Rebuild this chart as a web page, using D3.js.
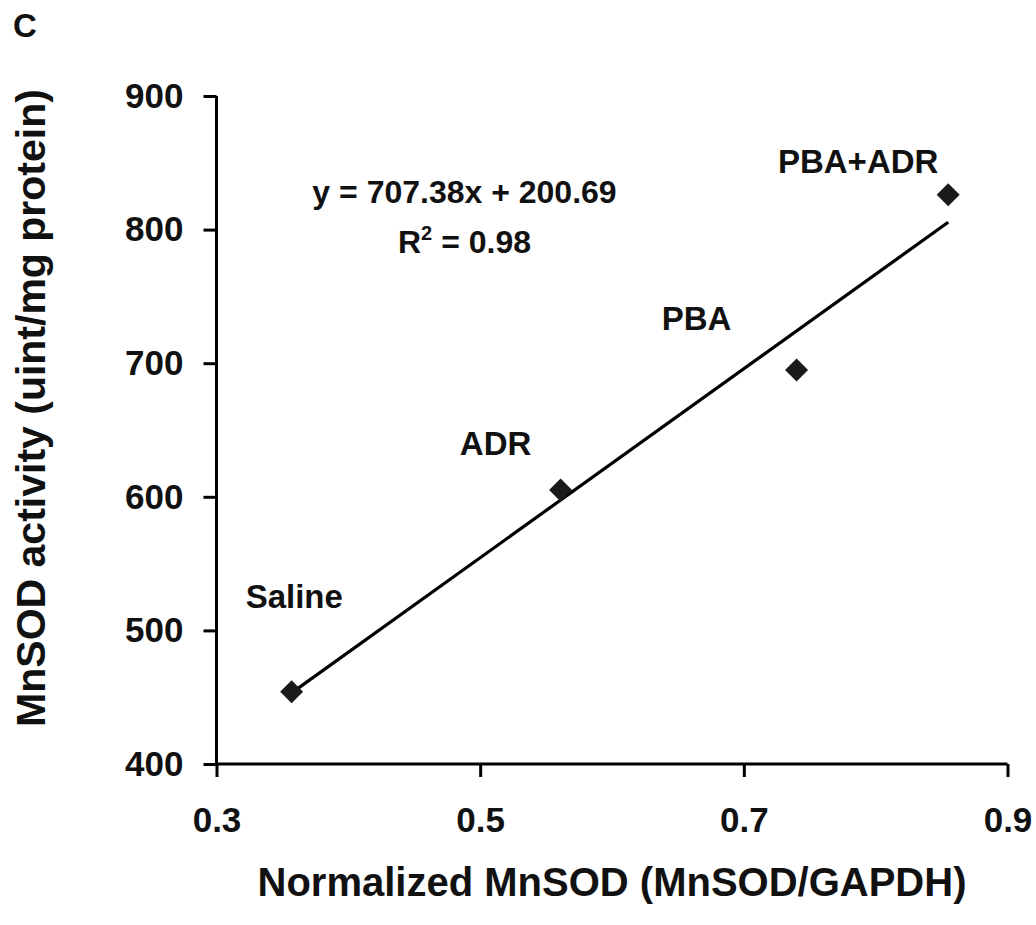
<!DOCTYPE html>
<html>
<head>
<meta charset="utf-8">
<script src="https://cdn.jsdelivr.net/npm/d3@7"></script>
<style>
  body { margin: 0; background: #fff; }
  svg text { font-family: "Liberation Sans", Arial, sans-serif; font-weight: bold; fill: #111; }
</style>
</head>
<body>
<svg width="1036" height="925"></svg>
<script>
// data
var groups = ["Saline", "ADR", "PBA", "PBA+ADR"];
var mnsodRatio = [0.357, 0.561, 0.74, 0.855];
var mnsodActivity = [454, 605, 695, 826];
var xTicks = [0.3, 0.5, 0.7, 0.9];
var yTicks = [400, 500, 600, 700, 800, 900];
var fitSlope = 707.38, fitIntercept = 200.69, fitR2 = 0.98;

var svg = d3.select("svg");

var x = d3.scaleLinear().domain([0.3, 0.9]).range([216.5, 1007.5]);
var y = d3.scaleLinear().domain([400, 900]).range([764, 96]);

// axes
var xAxis = svg.append("g")
  .attr("transform", "translate(0," + y(400) + ")")
  .call(d3.axisBottom(x).tickValues(xTicks).tickFormat(d3.format(".1f")).tickSize(13).tickPadding(30));
var yAxis = svg.append("g")
  .attr("transform", "translate(" + x(0.3) + ",0)")
  .call(d3.axisLeft(y).tickValues(yTicks).tickSize(13).tickPadding(20));

[xAxis, yAxis].forEach(function(a) {
  a.select(".domain").attr("stroke", "#000").attr("stroke-width", 3);
  a.selectAll(".tick line").attr("stroke", "#000").attr("stroke-width", 3);
  a.selectAll(".tick text").style("font-size", "35px").attr("fill", "#111");
});
// drop the outer tick stubs drawn by d3's domain path
xAxis.select(".domain").attr("d", "M" + x(0.3) + ",0H" + x(0.9));
yAxis.select(".domain").attr("d", "M0," + y(400) + "V" + y(900));

// trend line
var xs = d3.extent(mnsodRatio);
svg.append("line")
  .attr("x1", x(xs[0])).attr("y1", y(fitSlope * xs[0] + fitIntercept))
  .attr("x2", x(xs[1])).attr("y2", y(fitSlope * xs[1] + fitIntercept))
  .attr("stroke", "#000").attr("stroke-width", 3.2);

// diamond markers
var r = 11.5;
svg.selectAll(".pt")
  .data(groups)
  .enter().append("path")
  .attr("class", "pt")
  .attr("d", "M0," + (-r) + "L" + r + ",0L0," + r + "L" + (-r) + ",0Z")
  .attr("transform", (d, i) => "translate(" + x(mnsodRatio[i]) + "," + y(mnsodActivity[i]) + ")")
  .attr("fill", "#1a1a1a");

// point labels, offset from each marker
var labelOffset = [[-46, -84, "start"], [-65, -35, "middle"], [-100, -40, "middle"], [-90, -22, "middle"]];
svg.selectAll(".lbl")
  .data(groups)
  .enter().append("text")
  .attr("class", "lbl")
  .attr("x", (d, i) => x(mnsodRatio[i]) + labelOffset[i][0])
  .attr("y", (d, i) => y(mnsodActivity[i]) + labelOffset[i][1])
  .attr("text-anchor", (d, i) => labelOffset[i][2])
  .style("font-size", "33px")
  .text(d => d);

// equation
var eqX = x(0.3) + 248;
svg.append("text")
  .attr("x", eqX).attr("y", y(900) + 107)
  .attr("text-anchor", "middle").style("font-size", "32px")
  .text("y = " + fitSlope + "x + " + fitIntercept);
var r2 = svg.append("text")
  .attr("x", eqX).attr("y", y(900) + 157)
  .attr("text-anchor", "middle").style("font-size", "32px");
r2.append("tspan").text("R");
r2.append("tspan").attr("dy", -13).style("font-size", "20px").text("2");
r2.append("tspan").attr("dy", 13).text(" = " + fitR2.toFixed(2));

// axis titles
svg.append("text")
  .attr("x", (x(0.3) + x(0.9)) / 2).attr("y", 896)
  .attr("text-anchor", "middle").style("font-size", "40px")
  .text("Normalized MnSOD (MnSOD/GAPDH)");
svg.append("text")
  .attr("transform", "translate(45," + 408 + ") rotate(-90)")
  .attr("text-anchor", "middle").style("font-size", "41px")
  .text("MnSOD activity (uint/mg protein)");

// panel letter
svg.append("text")
  .attr("x", 13).attr("y", 37)
  .style("font-size", "33px")
  .text("C");
</script>
</body>
</html>
